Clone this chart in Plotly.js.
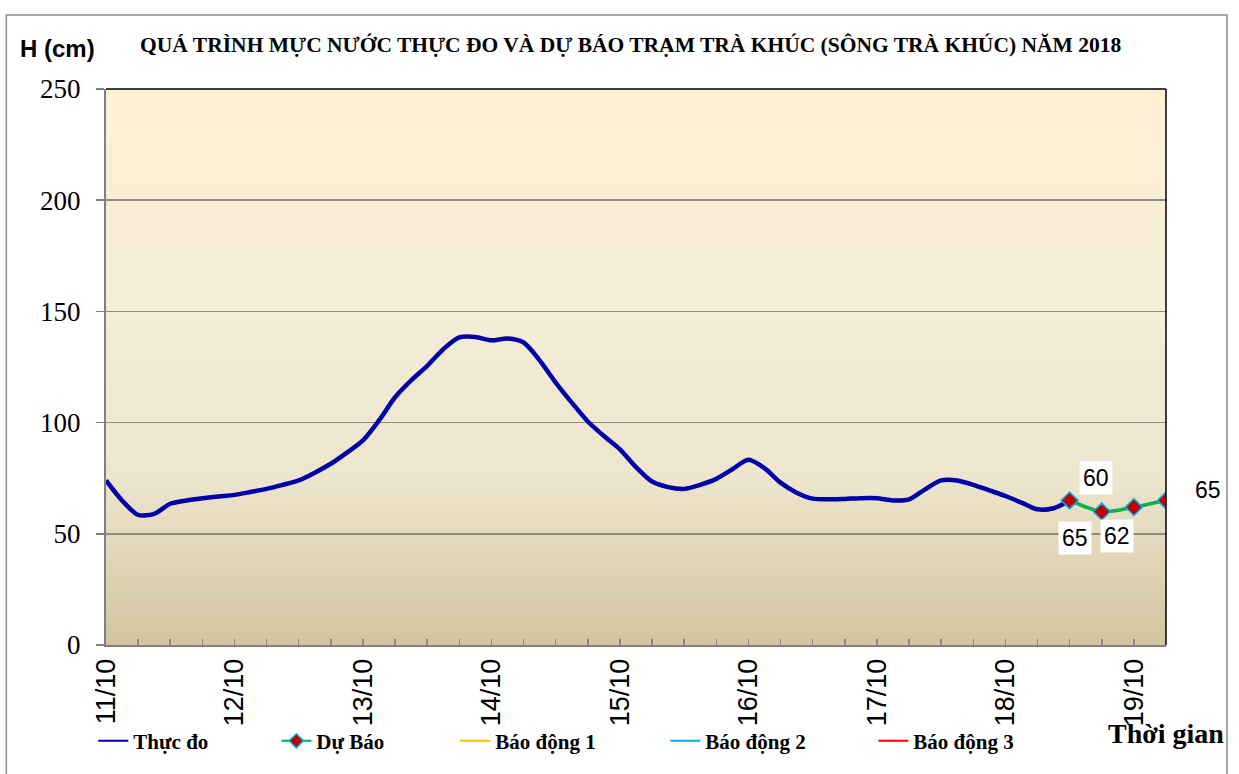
<!DOCTYPE html>
<html>
<head>
<meta charset="utf-8">
<script src="https://cdn.plot.ly/plotly-3.0.1.min.js"></script>
<style>html,body{margin:0;padding:0;background:#fff;}#chart{width:1239px;height:774px;}</style>
</head>
<body>
<div id="chart"></div>
<script>
// ---- data ----
// time in days since 11/10 00h, every 3 hours
const obsTime = [0,0.125,0.25,0.375,0.5,0.625,0.75,0.875,1,1.125,1.25,1.375,1.5,1.625,1.75,1.875,2,2.125,2.25,2.375,2.5,2.625,2.75,2.875,3,3.125,3.25,3.375,3.5,3.625,3.75,3.875,4,4.125,4.25,4.375,4.5,4.625,4.75,4.875,5,5.125,5.25,5.375,5.5,5.625,5.75,5.875,6,6.125,6.25,6.375,6.5,6.625,6.75,6.875,7,7.125,7.25,7.375,7.5];
const obsLevel = [74,65,58.5,59,63.5,65,66,66.8,67.5,68.8,70.2,72,74,77.5,81.5,86.5,92,101,111.4,119,125.5,133,138.3,138.5,137,137.8,136,128,118,109,100.5,94,88,80,73.5,71,70.2,72,74.7,79,83.3,79.5,73,68.5,65.8,65.5,65.7,66,66,65,65.5,70,74,74,72,69.5,67,64,61,61.5,65];
const fcTime = [7.5,7.75,8,8.25];
const fcLevel = [65,60,62,65];
const alarm1 = 350, alarm2 = 450, alarm3 = 550;
const dayTicks = [0,1,2,3,4,5,6,7,8];
const dayLabels = ['11/10','12/10','13/10','14/10','15/10','16/10','17/10','18/10','19/10'];
const seriesNames = ['Thực đo','Dự Báo','Báo động 1','Báo động 2','Báo động 3'];
const xRange = [0, 8.25];
const yRange = [0, 250];

const grad = '<svg xmlns="http://www.w3.org/2000/svg" width="100" height="100" preserveAspectRatio="none"><defs><linearGradient id="g" x1="0" y1="0" x2="0" y2="1"><stop offset="0" stop-color="#FFEFD3"/><stop offset="0.4" stop-color="#F4EDD7"/><stop offset="0.7" stop-color="#EDE5CD"/><stop offset="1" stop-color="#D3C49F"/></linearGradient></defs><rect width="100" height="100" fill="url(#g)"/></svg>';
const gradUri = 'data:image/svg+xml;base64,' + btoa(grad);

const colors = ['#0000A8', '#00B050', '#FFC000', '#00B0F0', '#FF0000'];
const fcMarker = {symbol: 'diamond', size: 13, color: '#C00000', line: {color: '#00B0F0', width: 1.5}};

const traces = [
  {x: obsTime, y: obsLevel, name: seriesNames[0], mode: 'lines', showlegend: false,
   line: {color: colors[0], width: 4.5, shape: 'spline', smoothing: 0.8}},
  {x: fcTime, y: fcLevel, name: seriesNames[1], mode: 'lines+markers', showlegend: false,
   line: {color: colors[1], width: 3.5, shape: 'spline', smoothing: 0.8}, marker: fcMarker},
  {x: xRange, y: [alarm1, alarm1], name: seriesNames[2], mode: 'lines', showlegend: false, line: {color: colors[2], width: 2}},
  {x: xRange, y: [alarm2, alarm2], name: seriesNames[3], mode: 'lines', showlegend: false, line: {color: colors[3], width: 2}},
  {x: xRange, y: [alarm3, alarm3], name: seriesNames[4], mode: 'lines', showlegend: false, line: {color: colors[4], width: 2}}
];
// legend keys (thin, like the reference), each in its own legend box
const legendIds = ['legend', 'legend2', 'legend3', 'legend4', 'legend5'];
seriesNames.forEach((n, i) => {
  const t = {x: [null], y: [null], name: n, mode: i === 1 ? 'lines+markers' : 'lines',
             line: {color: colors[i], width: 2}, legend: legendIds[i], showlegend: true};
  if (i === 1) t.marker = {symbol: 'diamond', size: 11, color: '#C00000', line: {color: '#00B0F0', width: 1.5}};
  traces.push(t);
});

const labelShift = [[5,-38],[-6,34],[-17,-29],[42,10]];
const annotations = fcTime.map((t, i) => ({
  x: t, y: fcLevel[i], xref: 'x', yref: 'y', text: String(fcLevel[i]), showarrow: false,
  xshift: labelShift[i][0], yshift: labelShift[i][1], bgcolor: '#FFFFFF',
  font: {family: 'Liberation Sans, Arial', size: 23, color: '#000'}, borderpad: 3
}));
annotations.push(
  {xref: 'paper', yref: 'paper', x: -0.083, y: 1.072, xanchor: 'left', yanchor: 'middle', showarrow: false,
   text: '<b>H (cm)</b>', font: {family: 'Liberation Sans, Arial', size: 24, color: '#000'}},
  {xref: 'paper', yref: 'paper', x: 1.0, y: -0.16, xanchor: 'left', yanchor: 'middle', showarrow: false,
   text: '<b>Thời gian</b>', font: {family: 'Liberation Serif, Times New Roman', size: 28, color: '#000'}, xshift: -60}
);

const legendX = [-0.012, 0.1607, 0.3295, 0.5277, 0.7239];
const legendFont = {family: 'Liberation Serif, Times New Roman', size: 21, color: '#000', weight: 'bold'};

const layout = {
  width: 1239, height: 774,
  margin: {l: 106, r: 73, t: 89, b: 129},
  paper_bgcolor: '#FFFFFF',
  plot_bgcolor: 'rgba(0,0,0,0)',
  title: {text: '<b>QUÁ TRÌNH MỰC NƯỚC THỰC ĐO VÀ DỰ BÁO TRẠM TRÀ KHÚC (SÔNG TRÀ KHÚC) NĂM 2018</b>',
          font: {family: 'Liberation Serif, Times New Roman', size: 21.5, color: '#000'},
          x: 0.509, xanchor: 'center', y: 0.942, yanchor: 'middle'},
  xaxis: {range: xRange, tickmode: 'array', tickvals: dayTicks, ticktext: dayLabels, tickangle: -90,
          ticks: 'inside', ticklen: 6, tickcolor: '#888', tickwidth: 1.5,
          minor: {tick0: 0, dtick: 0.25, ticks: 'inside', ticklen: 6, tickcolor: '#888', tickwidth: 1.5},
          showgrid: false, zeroline: false, showline: true, linecolor: '#808080', linewidth: 2,
          tickfont: {family: 'Liberation Sans, Arial', size: 27, color: '#000'}, ticklabelstandoff: 1},
  yaxis: {range: yRange, dtick: 50, ticks: 'outside', ticklen: 8, tickcolor: '#808080', tickwidth: 1.5,
          showgrid: true, gridcolor: '#8C8C8C', gridwidth: 1.5, zeroline: false,
          showline: true, linecolor: '#808080', linewidth: 2, ticklabelstandoff: 10,
          tickfont: {family: 'Liberation Serif, Times New Roman', size: 27, color: '#000'}},
  showlegend: true,
  images: [{source: gradUri, xref: 'paper', yref: 'paper', x: 0, y: 1, sizex: 1, sizey: 1,
            xanchor: 'left', yanchor: 'top', sizing: 'stretch', layer: 'below'}],
  shapes: [
    {type: 'line', xref: 'paper', yref: 'paper', x0: 0, x1: 1, y0: 1, y1: 1, line: {color: '#000', width: 1.5}},
    {type: 'line', xref: 'paper', yref: 'paper', x0: 1, x1: 1, y0: 0, y1: 1, line: {color: '#000', width: 1.5}},
    {type: 'rect', xref: 'paper', yref: 'paper', x0: -0.094, x1: 1.0575, y0: -0.3, y1: 1.133,
     line: {color: '#8C8C8C', width: 1.5}, fillcolor: 'rgba(0,0,0,0)', layer: 'below'}
  ],
  annotations: annotations,
  hovermode: false
};
legendIds.forEach((id, i) => {
  layout[id] = {orientation: 'h', x: legendX[i], xanchor: 'left', y: -0.173, yanchor: 'middle',
                font: legendFont, bgcolor: 'rgba(0,0,0,0)'};
});

Plotly.newPlot('chart', traces, layout, {displayModeBar: false, staticPlot: true});
</script>
</body>
</html>
